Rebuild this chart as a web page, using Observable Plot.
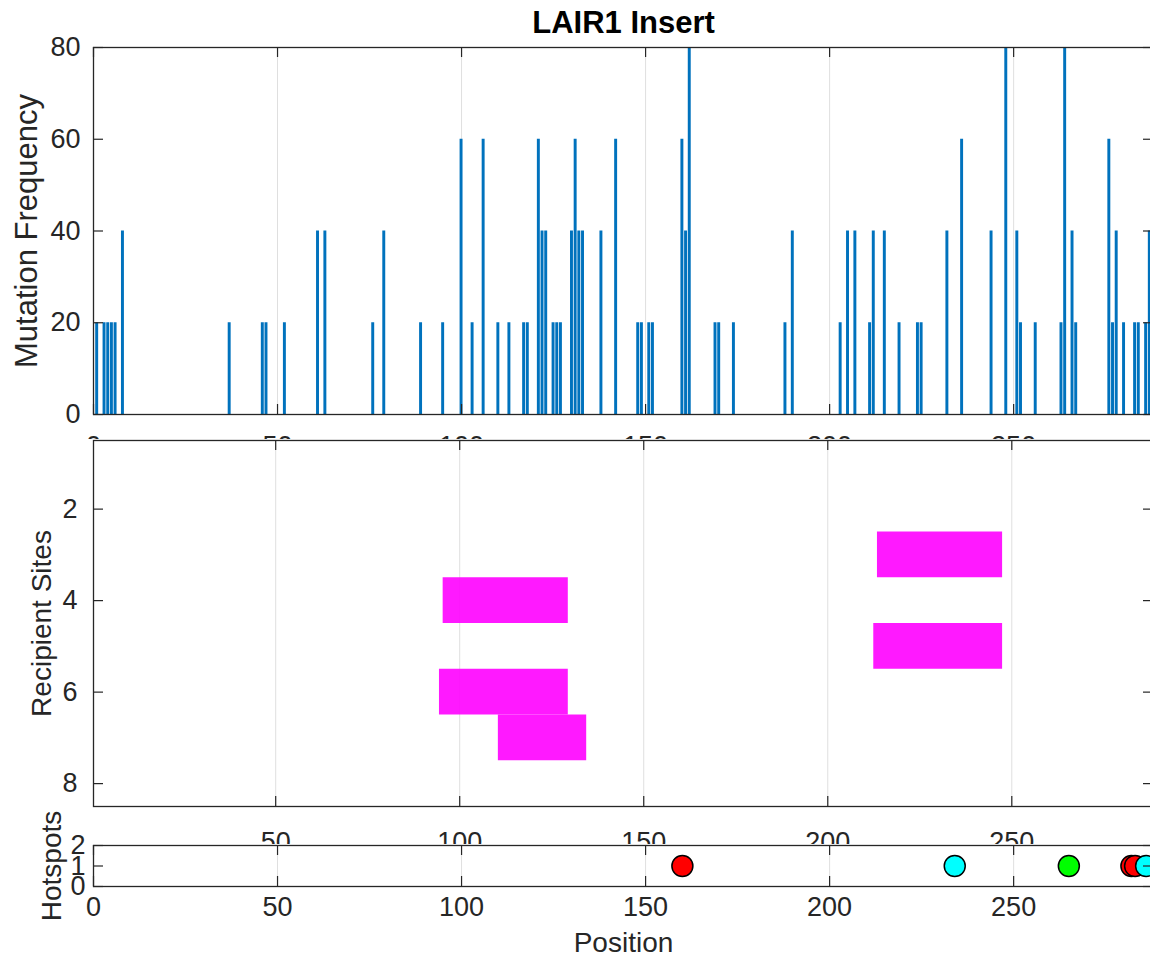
<!DOCTYPE html>
<html><head><meta charset="utf-8">
<script src="https://cdn.jsdelivr.net/npm/d3@7"></script>
<script src="https://cdn.jsdelivr.net/npm/@observablehq/plot@0.6"></script>
<style>
html,body{margin:0;padding:0;background:#fff;overflow:hidden;}
#wrap{position:relative;width:1153px;height:960px;}
#wrap svg{position:absolute;left:0;}
</style></head><body><div id="wrap"></div>
<script>
// ---- data ----
const chartTitle = "LAIR1 Insert";
const barPositions = [1,3,4,5,6,8,37,46,47,52,61,63,76,79,89,95,100,103,106,110,113,117,118,121,122,123,125,126,127,130,131,132,133,138,142,148,149,151,152,160,161,162,169,170,174,188,190,203,205,207,211,212,215,219,224,225,232,236,244,248,251,252,256,263,264,266,267,276,277,278,280,283,284,286,287];
const barFrequencies = [20,20,20,20,20,40,20,20,20,20,40,40,20,40,20,20,60,20,60,20,20,20,20,60,40,40,20,20,20,40,60,40,40,40,60,20,20,20,20,60,40,80,20,20,20,20,40,20,40,40,20,40,40,20,20,20,40,60,40,80,40,20,20,20,80,40,20,60,20,40,20,20,20,20,40];
const siteRows = [3,4,5,6,7];
const siteStarts = [214,96,213,95,111];
const siteEnds = [247,129,247,129,134];
const hotspotPositions = [160,234,265,282,283,286];
const hotspotColors = ["#ff0000","#00ffff","#00ff00","#ff0000","#ff0000","#00ffff"];
const xTicksFull = [0,50,100,150,200,250];
const xTicksSites = [50,100,150,200,250];
const yTicksFreq = [0,20,40,60,80];
const yTicksSites = [2,4,6,8];
const yTicksHot = [0,1,2];

// ---- styling ----
const W = 1153, ML = 93;
const axisColor = "#262626", gridColor = "#dfdfdf", barColor = "#0072bd";
const font = '"Liberation Sans", Arial, Helvetica, sans-serif';
const baseStyle = {fontFamily: font, fontSize: "27px", color: axisColor, maxWidth: "none", background: "#fff"};
const TL = 10, TF = 27, LF = 28;

const bars = barPositions.map((p, i) => ({pos: p, freq: barFrequencies[i]}));
const sites = siteRows.map((r, i) => ({row: r, start: siteStarts[i], end: siteEnds[i]}));
const hotspots = hotspotPositions.map((p, i) => ({pos: p, color: hotspotColors[i], level: 1}));

function inTicks(xt, yt, pw, ph) {
  return [
    Plot.tickX(xt, {x: d => d, insetBottom: ph - TL, stroke: axisColor, strokeWidth: 1.2}),
    Plot.tickX(xt, {x: d => d, insetTop: ph - TL, stroke: axisColor, strokeWidth: 1.2}),
    Plot.tickY(yt, {y: d => d, insetRight: pw - TL, stroke: axisColor, strokeWidth: 1.2}),
    Plot.tickY(yt, {y: d => d, insetLeft: pw - TL, stroke: axisColor, strokeWidth: 1.2})
  ];
}
const PW = W - ML;

// ---- top panel ----
const topH = 470, topMT = 47, topMB = 56;
const freqPlot = Plot.plot({
  width: W, height: topH, marginLeft: ML, marginRight: 0, marginTop: topMT, marginBottom: topMB,
  style: baseStyle,
  x: {domain: [0, 288], label: null},
  y: {domain: [0, 80], label: null},
  marks: [
    Plot.gridX(xTicksFull, {stroke: gridColor, strokeOpacity: 1}),
    Plot.rectY(bars, {x1: d => d.pos - 0.4, x2: d => d.pos + 0.4, y: "freq", fill: barColor}),
    ...inTicks(xTicksFull, yTicksFreq, PW, topH - topMT - topMB),
    Plot.axisX(xTicksFull, {tickSize: 0, tickPadding: 21, fontSize: TF, label: null}),
    Plot.axisY(yTicksFreq, {tickSize: 0, tickPadding: 13, fontSize: TF, label: null}),
    Plot.frame({stroke: axisColor, strokeWidth: 1.3}),
    Plot.text([chartTitle], {frameAnchor: "top", dy: -24.5, lineAnchor: "middle", textAnchor: "middle", fontWeight: "bold", fontSize: 31, fill: "#000"}),
    Plot.text(["Mutation Frequency"], {frameAnchor: "left", rotate: -90, dx: -66, textAnchor: "middle", lineAnchor: "middle", fontSize: 31, fill: axisColor})
  ]
});
freqPlot.style.top = "0px";

// ---- middle panel ----
const midH = 407, midMT = 1, midMB = 40;
const sitePlot = Plot.plot({
  width: W, height: midH, marginLeft: ML, marginRight: 0, marginTop: midMT, marginBottom: midMB,
  style: baseStyle,
  x: {domain: [0.5, 288.5], label: null},
  y: {domain: [0.5, 8.5], reverse: true, label: null},
  marks: [
    Plot.gridX(xTicksSites, {stroke: gridColor, strokeOpacity: 1}),
    Plot.rect(sites, {x1: d => d.start - 0.5, x2: d => d.end + 0.5, y1: d => d.row - 0.5, y2: d => d.row + 0.5, fill: "#ff00ff", fillOpacity: 0.9}),
    ...inTicks(xTicksSites, yTicksSites, PW, midH - midMT - midMB),
    Plot.axisX(xTicksSites, {tickSize: 0, tickPadding: 25, fontSize: TF, label: null}),
    Plot.axisY(yTicksSites, {tickSize: 0, tickPadding: 16, fontSize: TF, label: null}),
    Plot.frame({stroke: axisColor, strokeWidth: 1.3}),
    Plot.text(["Recipient Sites"], {frameAnchor: "left", rotate: -90, dx: -51, textAnchor: "middle", lineAnchor: "middle", fontSize: LF, fill: axisColor})
  ]
});
sitePlot.style.top = "439px";

// ---- bottom panel ----
const botH = 116, botMT = 1, botMB = 74;
const hotPlot = Plot.plot({
  width: W, height: botH, marginLeft: ML, marginRight: 0, marginTop: botMT, marginBottom: botMB,
  style: {...baseStyle, overflow: "visible"},
  x: {domain: [0, 288], label: null},
  y: {domain: [0, 2], label: null},
  marks: [
    Plot.gridX(xTicksFull, {stroke: gridColor, strokeOpacity: 1}),
    Plot.dot(hotspots, {x: "pos", y: "level", r: 10.5, fill: d => d.color, stroke: "#000", strokeWidth: 1.5}),
    ...inTicks(xTicksFull, yTicksHot, PW, botH - botMT - botMB),
    Plot.axisX(xTicksFull, {tickSize: 0, tickPadding: 10, fontSize: TF, label: null}),
    Plot.axisY(yTicksHot, {tickSize: 0, tickPadding: 8, fontSize: TF, label: null}),
    Plot.frame({stroke: axisColor, strokeWidth: 1.3}),
    Plot.text(["Hotspots"], {frameAnchor: "left", rotate: -90, dx: -41, textAnchor: "middle", lineAnchor: "middle", fontSize: LF, fill: axisColor}),
    Plot.text(["Position"], {frameAnchor: "bottom", dy: 57, textAnchor: "middle", lineAnchor: "middle", fontSize: LF, fill: axisColor})
  ]
});
hotPlot.style.top = "844px";

document.getElementById("wrap").append(freqPlot, sitePlot, hotPlot);
</script>
</body></html>
